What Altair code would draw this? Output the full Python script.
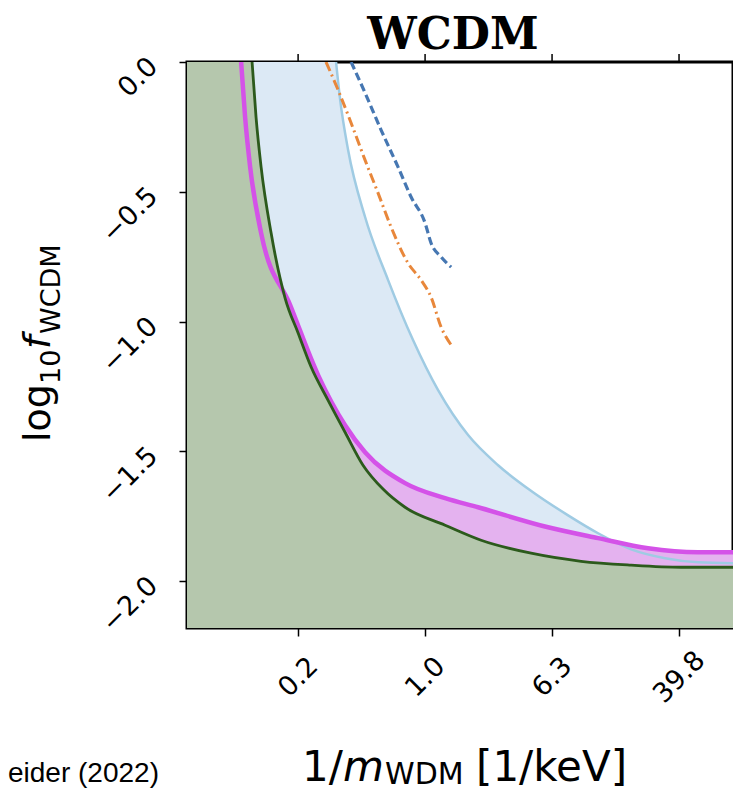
import altair as alt
import pandas as pd

# ---- data (x: log10 of 1/m_WDM [1/keV], y: log10 f_WCDM) ----
green_x = [-1.09, -1.065, -1.033, -0.97, -0.882, -0.80, -0.718, -0.611, -0.504, -0.391, -0.265, -0.126, 0.126, 0.353, 0.668, 0.983, 1.298, 1.613, 1.97]
green_y = [0.0, -0.212, -0.405, -0.659, -0.909, -1.044, -1.175, -1.303, -1.426, -1.553, -1.645, -1.715, -1.784, -1.842, -1.892, -1.923, -1.938, -1.946, -1.946]

magenta_x = [-1.159, -1.134, -1.102, -1.033, -0.85, -0.674, -0.504, -0.378, -0.126, 0.126, 0.334, 0.775, 1.09, 1.405, 1.72, 1.97]
magenta_y = [0.0, -0.212, -0.405, -0.659, -0.936, -1.206, -1.399, -1.503, -1.622, -1.68, -1.715, -1.792, -1.834, -1.873, -1.888, -1.888]

blue_x = [-0.561, -0.535, -0.485, -0.378, -0.233, -0.076, 0.082, 0.271, 0.46, 0.68, 0.901, 1.09, 1.298, 1.512, 1.72, 1.97]
blue_y = [0.0, -0.146, -0.339, -0.597, -0.84, -1.071, -1.264, -1.437, -1.553, -1.657, -1.746, -1.815, -1.877, -1.911, -1.927, -1.931]

orange_x = [-0.624, -0.548, -0.466, -0.378, -0.296, -0.214, -0.107, -0.025, 0.038, 0.101, 0.17]
orange_y = [0.0, -0.108, -0.235, -0.378, -0.505, -0.636, -0.775, -0.84, -0.906, -1.021, -1.095]

dashed_x = [-0.466, -0.378, -0.277, -0.17, -0.088, 0.0, 0.038, 0.101, 0.164]
dashed_y = [0.0, -0.119, -0.262, -0.405, -0.52, -0.62, -0.698, -0.751, -0.79]

x_ticks = [-0.8, 0.0, 0.8, 1.6]
y_ticks = [0.0, -0.5, -1.0, -1.5, -2.0]
x_domain = [-1.5, 1.94]
y_domain = [-2.18, 0.0]

W, H = 546, 566


def frame(xs, ys, base=None, lead=None):
    xs = list(xs)
    ys = list(ys)
    if lead is not None:
        xs = [lead[0]] + xs
        ys = [lead[1]] + ys
    df = pd.DataFrame({"x": xs, "y": ys, "i": list(range(len(xs)))})
    if base is not None:
        df["b"] = [base] * len(xs)
    return df


xs = alt.Scale(domain=x_domain, nice=False, zero=False)
ys = alt.Scale(domain=y_domain, nice=False, zero=False)

xaxis = alt.Axis(values=x_ticks, labelExpr="format(pow(10, datum.value), '.1f')",
                 labelAngle=-45, labelAlign="center", labelBaseline="middle",
                 labelFontSize=27, labelFont="DejaVu Sans", labelColor="black",
                 tickSize=8, tickWidth=1.5, tickColor="black", domain=False, grid=False,
                 title=None, labelPadding=41, labelFlush=False, labelOverlap=False)
yaxis = alt.Axis(values=y_ticks, format=".1f", labelAngle=-45, labelAlign="right",
                 labelBaseline="middle", labelFontSize=27, labelOffset=0,
                 labelFont="DejaVu Sans", labelColor="black", tickSize=8, tickWidth=1.5,
                 tickColor="black", domain=False, grid=False, title=None, labelPadding=26,
                 labelFlush=False, labelOverlap=False)


def area(df, color):
    return alt.Chart(df).mark_area(fill=color, fillOpacity=1, interpolate="monotone", clip=True).encode(
        x=alt.X("x:Q", scale=xs, axis=xaxis),
        y=alt.Y("y:Q", scale=ys, axis=yaxis),
        y2=alt.Y2("b:Q"),
    )


def line(df, color, width, dash=None):
    kw = dict(color=color, strokeWidth=width, interpolate="monotone", clip=True)
    if dash:
        kw["strokeDash"] = dash
    return alt.Chart(df).mark_line(**kw).encode(
        x=alt.X("x:Q", scale=xs, axis=xaxis),
        y=alt.Y("y:Q", scale=ys, axis=yaxis),
        order="i:Q",
    )


bottom = y_domain[0]
blue_area = area(frame(blue_x, blue_y, bottom, lead=(x_domain[0], 0.0)), "#dce9f5")
mag_area = area(frame(magenta_x, magenta_y, bottom, lead=(x_domain[0], 0.0)), "#e4b2ef")
green_area = area(frame(green_x, green_y, bottom, lead=(x_domain[0], 0.0)), "#b5c7ad")

blue_line = line(frame(blue_x, blue_y), "#9fcbe3", 2.5)
mag_line = line(frame(magenta_x, magenta_y), "#d452e8", 4.5)
green_line = line(frame(green_x, green_y), "#2c5a1c", 2.8)
orange_line = line(frame(orange_x, orange_y), "#e8873b", 3, dash=[10, 4, 2, 4])
dashed_line = line(frame(dashed_x, dashed_y), "#4677b2", 3.2, dash=[8, 4])

top_ticks = alt.Chart(pd.DataFrame({"t": x_ticks})).mark_rule(color="black", strokeWidth=1.5).encode(
    x=alt.X("t:Q", scale=xs, axis=xaxis), y=alt.value(-8), y2=alt.value(0)
)


def txt(s, x, y, size, **kw):
    return alt.Chart(pd.DataFrame({"a": [0]})).mark_text(
        text=s, fontSize=size, align=kw.pop("align", "left"), baseline="alphabetic",
        color="black", **kw
    ).encode(x=alt.value(x), y=alt.value(y))


title = txt("WCDM", 266, -13, 44, font="DejaVu Serif", fontWeight="bold", align="center")

# y-axis title pieces: log_10 f_WCDM (rotated)
yt = [
    txt("log", -137, 380, 38, font="DejaVu Sans", angle=270),
    txt("10", -127, 322, 27, font="DejaVu Sans", angle=270),
    txt("f", -137, 287, 38, font="DejaVu Sans", fontStyle="italic", angle=270),
    txt("WCDM", -127, 272, 27, font="DejaVu Sans", angle=270),
]
# x-axis title pieces: 1/m_WDM [1/keV]
xt = [
    txt("1/", 115, 719, 42, font="DejaVu Sans"),
    txt("m", 156, 719, 42, font="DejaVu Sans", fontStyle="italic"),
    txt("WDM", 198, 722, 30, font="DejaVu Sans"),
    txt("[1/keV]", 289, 719, 42, font="DejaVu Sans"),
]
credit = txt("eider (2022)", -179, 720, 28, font="Liberation Sans")

chart = alt.layer(
    blue_area, mag_area, green_area,
    blue_line, mag_line, green_line, orange_line, dashed_line,
    top_ticks, title, *yt, *xt, credit,
).properties(
    width=W, height=H,
    autosize=alt.AutoSizeParams(type="none"),
    padding={"left": 179, "top": 54, "right": 0, "bottom": 163},
).configure(background="white").configure_view(stroke="black", strokeWidth=3)

chart.save("out.html", embed_options={"renderer": "svg", "actions": False})
